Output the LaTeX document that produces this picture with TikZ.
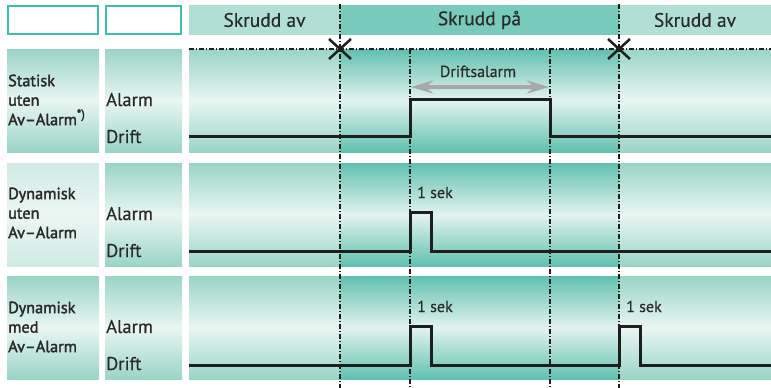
\documentclass[tikz,border=0pt]{standalone}
\usepackage{fontspec}
\setmainfont{PT Sans}
\newfontfamily\regfont[FakeBold=0.4]{PT Sans}
\newfontfamily\labfont[FakeBold=2]{PT Sans}
\usetikzlibrary{arrows.meta}
\definecolor{txt}{HTML}{2A2A2A}
\definecolor{frame}{HTML}{3DC1AE}
\definecolor{hdrlight}{HTML}{B2DFD5}
\definecolor{hdrdark}{HTML}{78CABB}
\definecolor{lightend}{HTML}{9AD4C7}
\definecolor{lightmid}{HTML}{E9F6F2}
\definecolor{darkend}{HTML}{60C0AF}
\definecolor{darkmid}{HTML}{E2F3EF}
\definecolor{paleend}{HTML}{D0EBE4}
\definecolor{palemid}{HTML}{EBF6F3}
\definecolor{sig}{HTML}{1E1E1E}
\definecolor{arrowgray}{HTML}{A8A8A8}
\begin{document}
\begin{tikzpicture}[x=1pt,y=-1pt,
  lightfill/.style={top color=lightend,bottom color=lightend,middle color=lightmid},
  darkfill/.style={top color=darkend,bottom color=darkend,middle color=darkmid},
  palefill/.style={top color=paleend,bottom color=paleend,middle color=palemid},
  emptybox/.style={draw=frame,line width=1.4pt,fill=white},
  hdrtext/.style={font=\regfont\fontsize{19.5}{19.5}\selectfont,text=txt},
  rowlabel/.style={font=\labfont\fontsize{16.3}{19.5}\selectfont,text=txt,align=left,anchor=west,inner sep=0pt},
  levellabel/.style={font=\regfont\fontsize{18.5}{18.5}\selectfont,text=txt,anchor=base west,inner sep=0pt},
  siglabel/.style={font=\regfont\fontsize{16}{16}\selectfont,text=txt,anchor=base west,inner sep=0pt},
  dashdot/.style={line width=1.1pt,dash pattern=on 5pt off 2pt on 1pt off 2pt,draw=sig},
  signal/.style={line width=3pt,draw=sig,line join=miter},
  cross/.style={line width=2.5pt,draw=sig}]
\useasboundingbox (0,0) rectangle (771,388);
% header
\draw[emptybox] (8,6) rectangle (98,34);
\draw[emptybox] (106,6) rectangle (181,34);
\fill[hdrlight] (189,5) rectangle (340,35);
\fill[hdrdark] (340,5) rectangle (619,35);
\fill[hdrlight] (619,5) rectangle (771,35);
\node[hdrtext] (h1) at (264.5,20) {Skrudd av};
\node[hdrtext] (h2) at (479.5,20) {Skrudd på};
\node[hdrtext] (h3) at (695,20) {Skrudd av};
% rows
\foreach \t/\b/\c in {49/152/lightfill,163/266/palefill,276/379/lightfill}{
  \shade[\c] (7,\t) rectangle (99,\b);
  \shade[lightfill] (105,\t) rectangle (182,\b);
  \shade[lightfill] (189,\t) rectangle (340,\b);
  \shade[darkfill] (340,\t) rectangle (619,\b);
  \shade[lightfill] (619,\t) rectangle (771,\b);
}
% row labels
\node[rowlabel] (r1) at (8,100) {Statisk\\uten\\Av–Alarm\raisebox{0.42em}{\fontsize{12.5}{12.5}\selectfont*)}};
\node[rowlabel] (r2) at (8,213) {Dynamisk\\uten\\Av–Alarm};
\node[rowlabel] (r3) at (8,327) {Dynamisk\\med\\Av–Alarm};
\foreach \t/\n in {49/1,163/2,276/3}{
  \node[levellabel] (a\n) at (106,\t+57) {Alarm};
  \node[levellabel] (d\n) at (106,\t+94) {Drift};
}
% guide lines
\draw[dashdot] (189,49) -- (771,49);
\draw[dashdot] (340,4) -- (340,388);
\draw[dashdot] (619,4) -- (619,388);
\draw[dashdot] (410,49) -- (410,388);
\draw[dashdot] (550,49) -- (550,388);
% crosses
\coordinate (x1) at (340,49);
\coordinate (x2) at (619,49);
\foreach \p in {x1,x2}{
  \draw[cross] ([shift={(-11,-10)}]\p) -- ([shift={(11,10)}]\p);
  \draw[cross] ([shift={(-11,10)}]\p) -- ([shift={(11,-10)}]\p);
}
% signals
\draw[signal] (189,136) -- (410,136) -- (410,99) -- (550,99) -- (550,136) -- (771,136);
\draw[signal] (189,251) -- (410,251) -- (410,212) -- (431,212) -- (431,251) -- (771,251);
\draw[signal] (189,365) -- (410,365) -- (410,326) -- (431,326) -- (431,365) -- (619,365) -- (619,326) -- (640,326) -- (640,365) -- (771,365);
% duration arrow
\coordinate (da) at (411,87);
\coordinate (db) at (549,87);
\draw[arrowgray,line width=3.2pt,{Stealth[length=22pt,width=13pt,inset=7pt]}-{Stealth[length=22pt,width=13pt,inset=7pt]}] (da) -- (db);
\node[siglabel,anchor=base] (dl) at (478,77) {Driftsalarm};
\node[siglabel] (s1) at (417,198) {1 sek};
\node[siglabel] (s2) at (417,312) {1 sek};
\node[siglabel] (s3) at (626,312) {1 sek};
\end{tikzpicture}
\end{document}
